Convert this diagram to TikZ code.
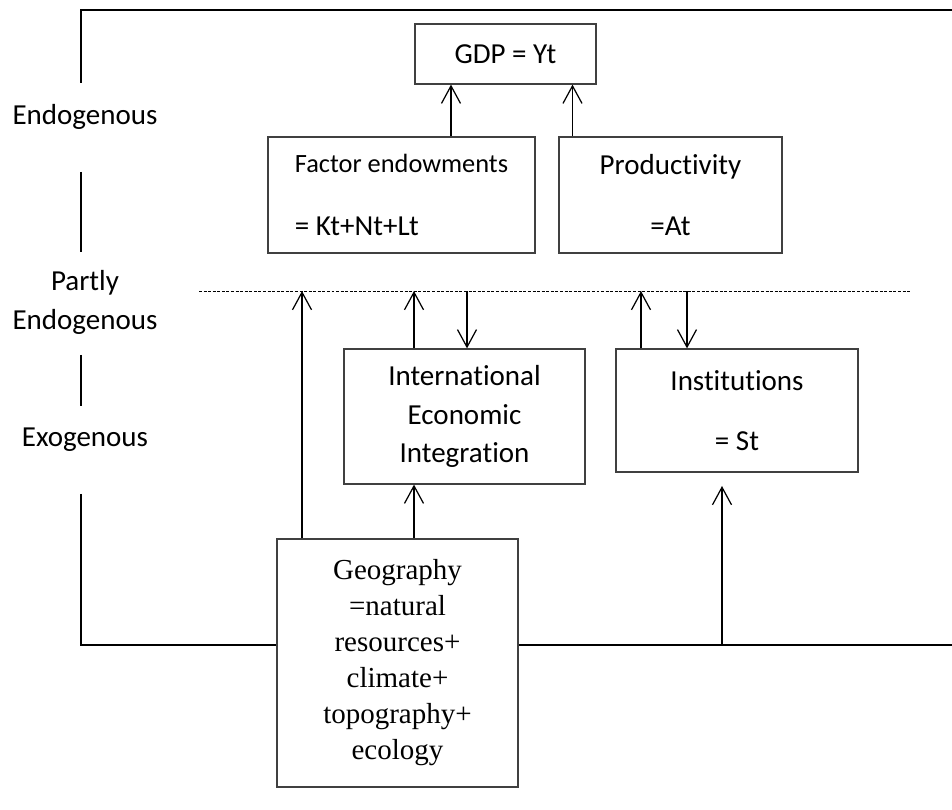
\documentclass[tikz,border=0pt]{standalone}
\usepackage{fontspec}
\setmainfont{Carlito}[Ligatures=NoCommon]
\newfontfamily\geofont{Liberation Serif}
\usetikzlibrary{arrows.meta}

\begin{document}
\begin{tikzpicture}[node distance=2.82cm,>={Straight Barb[length=0.35cm,width=0.38cm]},line width=0.7pt,
    box/.style={draw=black!75, font=\fontsize{16.5}{22}\selectfont, align=center, inner sep=0pt},
    side/.style={font=\fontsize{16.5}{22}\selectfont, align=center}]
    \useasboundingbox (0,0) rectangle (19.04,-16.2);
        \node (gdp) [box, minimum width=3.62cm, minimum height=1.2cm] at (10.11,-1.08) {GDP = Yt};
        \node (factor) [box, minimum width=5.34cm, minimum height=2.32cm, below of=gdp, xshift=-2.08cm, align=left] {{\fontsize{15}{18}\selectfont Factor endowments}\\[14pt] = Kt+Nt+Lt};
        \node (prod) [box, minimum width=4.46cm, minimum height=2.32cm, below of=gdp, xshift=3.30cm] {Productivity\\[13pt] =At};
        \node (iei) [box, minimum width=4.82cm, minimum height=2.70cm, below of=factor, xshift=1.26cm, yshift=-1.61cm] {International\\ Economic\\ Integration};
        \node (inst) [box, minimum width=4.84cm, minimum height=2.46cm, right of=iei, xshift=2.63cm, yshift=0.12cm] {Institutions\\[12pt] = St};
        \node (geo) [box, minimum width=4.82cm, minimum height=4.96cm, below of=iei, xshift=-1.34cm, yshift=-2.11cm, font=\geofont\fontsize{16.5}{20.5}\selectfont] {Geography\\ =natural\\ resources+\\ climate+\\ topography+\\ ecology};
        % left labels
        \node (endo) [side] at (1.70,-2.34) {Endogenous};
        \node (partly) [side, below of=endo, yshift=-0.89cm] {Partly\\ Endogenous};
        \node (exo) [side, below of=partly, yshift=0.07cm] {Exogenous};
        % frame
        \coordinate (bl) at (1.62,-12.9);
        \draw (1.62,-1.66) -- (1.62,-0.2) -- (19.04,-0.2);
        \draw (1.62,-3.44) -- (1.62,-5.04);
        \draw (1.62,-7.10) -- (1.62,-8.12);
        \draw (1.62,-9.88) -- (bl) -- (bl -| geo.west);
        \draw (bl -| geo.east) -- (19.04,-12.9);
        % dashed line
        \coordinate (dashL) at (3.98,-5.82);
        \coordinate (dashR) at (18.2,-5.82);
        \draw[line width=0.5pt, dash pattern=on 1.7pt off 0.9pt] (dashL) -- (dashR);
        \coordinate (d1) at (6.04,-5.82);
        \coordinate (d2) at (8.28,-5.82);
        \coordinate (d3) at (9.34,-5.82);
        \coordinate (d4) at (12.82,-5.82);
        \coordinate (d5) at (13.74,-5.82);
        \coordinate (g1) at (9.02,0);
        \coordinate (g2) at (11.45,0);
        \coordinate (b1) at (14.44,-12.9);
        \coordinate (instlow) at (14.44,-9.72);
        % arrows
        \draw[->] (g1 |- factor.north) -- (g1 |- gdp.south);
        \draw[->] (g2 |- prod.north) -- (g2 |- gdp.south);
        \draw[->] (d1 |- geo.north) -- (d1);
        \draw[->] (d2 |- iei.north) -- (d2);
        \draw[->] (d3) -- (d3 |- iei.north);
        \draw[->] (d4 |- inst.north) -- (d4);
        \draw[->] (d5) -- (d5 |- inst.north);
        \draw[->] (d2 |- geo.north) -- (d2 |- iei.south);
        \draw[->] (b1) -- (instlow);
    \end{tikzpicture}
\end{document}
